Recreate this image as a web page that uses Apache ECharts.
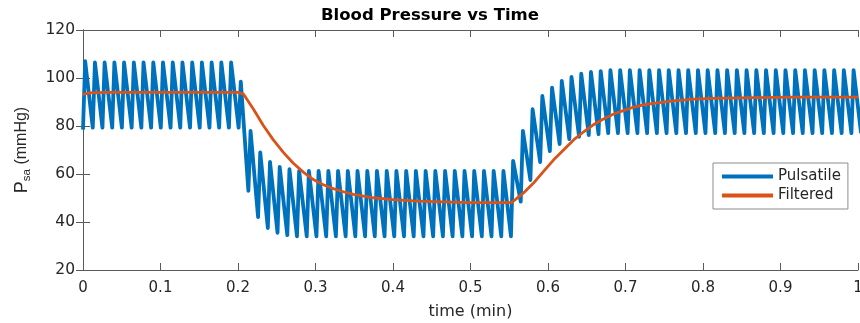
<!DOCTYPE html>
<html>
<head>
<meta charset="utf-8">
<script src="https://cdn.jsdelivr.net/npm/echarts@6/dist/echarts.min.js"></script>
<style>
  html, body { margin: 0; padding: 0; background: #fff; }
  #chart { width: 860px; height: 323px; }
</style>
</head>
<body>
<div id="chart"></div>
<script>
// beat onsets (trough) and systolic peaks (min)
const beatStart = [
  0, 0.0126, 0.0251, 0.0377, 0.0502, 0.0628, 0.0753, 0.0879, 0.1004, 0.1130,
  0.1255, 0.1381, 0.1506, 0.1632, 0.1757, 0.1883, 0.2008, 0.2134, 0.2259, 0.2385,
  0.2510, 0.2636, 0.2761, 0.2887, 0.3012, 0.3138, 0.3263, 0.3389, 0.3514, 0.3640,
  0.3765, 0.3891, 0.4016, 0.4142, 0.4267, 0.4393, 0.4518, 0.4644, 0.4769, 0.4895,
  0.5020, 0.5146, 0.5271, 0.5397, 0.5522, 0.5648, 0.5773, 0.5899, 0.6024, 0.6150,
  0.6275, 0.6401, 0.6526, 0.6652, 0.6777, 0.6903, 0.7028, 0.7154, 0.7279, 0.7405,
  0.7530, 0.7656, 0.7781, 0.7907, 0.8032, 0.8158, 0.8283, 0.8409, 0.8534, 0.8660,
  0.8785, 0.8911, 0.9036, 0.9162, 0.9287, 0.9413, 0.9538, 0.9664, 0.9789, 0.9915,
  1.0040
]
const peakTime = [
  0.0028, 0.0154, 0.0279, 0.0405, 0.0530, 0.0656, 0.0781, 0.0907, 0.1032, 0.1158,
  0.1283, 0.1409, 0.1534, 0.1660, 0.1785, 0.1911, 0.2036, 0.2162, 0.2287, 0.2413,
  0.2538, 0.2664, 0.2789, 0.2915, 0.3040, 0.3166, 0.3291, 0.3417, 0.3542, 0.3668,
  0.3793, 0.3919, 0.4044, 0.4170, 0.4295, 0.4421, 0.4546, 0.4672, 0.4797, 0.4923,
  0.5048, 0.5174, 0.5299, 0.5425, 0.5550, 0.5676, 0.5801, 0.5927, 0.6052, 0.6178,
  0.6303, 0.6429, 0.6554, 0.6680, 0.6805, 0.6931, 0.7056, 0.7182, 0.7307, 0.7433,
  0.7558, 0.7684, 0.7809, 0.7935, 0.8060, 0.8186, 0.8311, 0.8437, 0.8562, 0.8688,
  0.8813, 0.8939, 0.9064, 0.9190, 0.9315, 0.9441, 0.9566, 0.9692, 0.9817, 0.9943
]
const troughP = [
  78.5, 79.3, 79.3, 79.3, 79.3, 79.3, 79.3, 79.3, 79.3, 79.3,
  79.3, 79.3, 79.3, 79.3, 79.3, 79.3, 79.3, 53, 42, 37.5,
  35.5, 34.5, 34, 34, 34, 34, 34, 34, 34, 34,
  34, 34, 34, 34, 34, 34, 34, 34, 34, 34,
  34, 34, 34, 34, 34, 48.5, 57.5, 65, 69.5, 72.5,
  74.5, 75.5, 76.2, 76.6, 77, 77, 77, 77, 77, 77,
  77, 77, 77, 77, 77, 77, 77, 77, 77, 77,
  77, 77, 77, 77, 77, 77, 77, 77, 77, 77,
  77
]
const peakP = [
  107, 106.5, 106.5, 106.5, 106.5, 106.5, 106.5, 106.5, 106.5, 106.5,
  106.5, 106.5, 106.5, 106.5, 106.5, 106.5, 98.5, 78, 69, 65,
  63, 62, 61.3, 61.3, 61.3, 61.3, 61.3, 61.3, 61.3, 61.3,
  61.3, 61.3, 61.3, 61.3, 61.3, 61.3, 61.3, 61.3, 61.3, 61.3,
  61.3, 61.3, 61.3, 61.3, 65.5, 78, 87, 92.5, 96, 98.8,
  100.5, 101.8, 102.5, 102.9, 103.3, 103.3, 103.3, 103.3, 103.3, 103.3,
  103.3, 103.3, 103.3, 103.3, 103.3, 103.3, 103.3, 103.3, 103.3, 103.3,
  103.3, 103.3, 103.3, 103.3, 103.3, 103.3, 103.3, 103.3, 103.3, 103.3
]

// filtered (mean) pressure
const filtT = [
  0, 0.008, 0.03, 0.1, 0.2, 0.207, 0.22, 0.2327, 0.2456, 0.2585,
  0.2714, 0.2843, 0.2972, 0.31, 0.323, 0.336, 0.349, 0.375, 0.4, 0.426,
  0.452, 0.5, 0.553, 0.568, 0.581, 0.594, 0.607, 0.62, 0.633, 0.646,
  0.658, 0.671, 0.684, 0.697, 0.71, 0.723, 0.736, 0.762, 0.788, 0.813,
  0.865, 0.923, 1.0
]
const filtP = [
  93.2, 93.8, 94, 94, 94, 93.3, 87, 80.2, 74.2, 69,
  64.5, 60.8, 57.7, 55.5, 53.9, 52.6, 51.5, 50.1, 49.3, 48.8,
  48.5, 48.1, 48.1, 52, 56.1, 61, 65.8, 70, 74.2, 77.6,
  80.4, 82.8, 84.9, 86.4, 87.8, 88.8, 89.4, 90.5, 91.2, 91.5,
  91.8, 92, 92
]

const xTicks = [0, 1, 0.1]
const yTicks = [20, 120, 20]

const pulsatile = []
beatStart.forEach((t, k) => {
  pulsatile.push([t, troughP[k]])
  if (k < peakP.length) pulsatile.push([peakTime[k], peakP[k]])
})
const filtered = filtT.map((t, i) => [t, filtP[i]])

const font = 'DejaVu Sans'
const axisCol = '#5a5a5a'
const txtCol = '#262626'

const chart = echarts.init(document.getElementById('chart'))

const tickIn = { show: true, inside: true, length: 7, lineStyle: { color: axisCol } }
const lineAx = { show: true, lineStyle: { color: axisCol, width: 1 } }

const option = {
  animation: false,
  backgroundColor: '#fff',
  title: {
    text: 'Blood Pressure vs Time',
    left: 'center',
    top: 0,
    padding: [7, 0, 0, 84],
    textStyle: { fontFamily: font, fontSize: 16.5, fontWeight: 'bold', color: '#000' }
  },
  legend: {
    orient: 'vertical',
    left: 713,
    top: 163,
    padding: [6, 7, 6, 9],
    itemGap: 4,
    itemWidth: 51,
    itemHeight: 4,
    icon: 'rect',
    borderColor: '#8c8c8c',
    borderWidth: 1,
    borderRadius: 0,
    backgroundColor: '#fff',
    textStyle: { fontFamily: font, fontSize: 15, color: txtCol },
    data: ['Pulsatile', 'Filtered']
  },
  grid: { left: 83, right: 2, top: 30, bottom: 53, containLabel: false, outerBoundsMode: 'none' },
  xAxis: [
    {
      type: 'value',
      min: xTicks[0], max: xTicks[1], interval: xTicks[2],
      name: 'time (min)',
      nameLocation: 'middle',
      nameGap: 34,
      nameTextStyle: { fontFamily: font, fontSize: 16, color: txtCol },
      axisLine: lineAx,
      axisTick: tickIn,
      splitLine: { show: false },
      axisLabel: { fontFamily: font, fontSize: 15, color: txtCol, margin: 11 }
    },
    {
      type: 'value', position: 'top',
      min: xTicks[0], max: xTicks[1], interval: xTicks[2],
      axisLine: lineAx, axisTick: tickIn,
      splitLine: { show: false }, axisLabel: { show: false }
    }
  ],
  yAxis: [
    {
      type: 'value',
      min: yTicks[0], max: yTicks[1], interval: yTicks[2],
      name: '{p|P}{s|sa}{q| (mmHg)}',
      nameLocation: 'middle',
      nameRotate: 90,
      nameGap: 50,
      nameTextStyle: {
        color: txtCol,
        rich: {
          p: { fontFamily: 'Liberation Sans', fontSize: 18, lineHeight: 22, color: txtCol },
          s: { fontFamily: 'Liberation Sans', fontSize: 11.5, verticalAlign: 'bottom', color: txtCol },
          q: { fontFamily: 'Liberation Sans', fontSize: 16, lineHeight: 22, color: txtCol }
        }
      },
      axisLine: lineAx,
      axisTick: tickIn,
      splitLine: { show: false },
      axisLabel: { fontFamily: font, fontSize: 15.5, color: txtCol, margin: 8 }
    },
    {
      type: 'value', position: 'right',
      min: yTicks[0], max: yTicks[1], interval: yTicks[2],
      axisLine: lineAx, axisTick: tickIn,
      splitLine: { show: false }, axisLabel: { show: false }
    }
  ],
  series: [
    {
      name: 'Pulsatile',
      type: 'line',
      xAxisIndex: 0, yAxisIndex: 0,
      data: pulsatile,
      symbol: 'none',
      color: '#0072BD',
      lineStyle: { color: '#0072BD', width: 3.8, join: 'round' },
      z: 2
    },
    {
      name: 'Filtered',
      type: 'line',
      xAxisIndex: 0, yAxisIndex: 0,
      data: filtered,
      symbol: 'none',
      color: '#D95319',
      lineStyle: { color: '#D95319', width: 2.8, join: 'round' },
      z: 3
    }
  ]
}

chart.setOption(option)
</script>
</body>
</html>
